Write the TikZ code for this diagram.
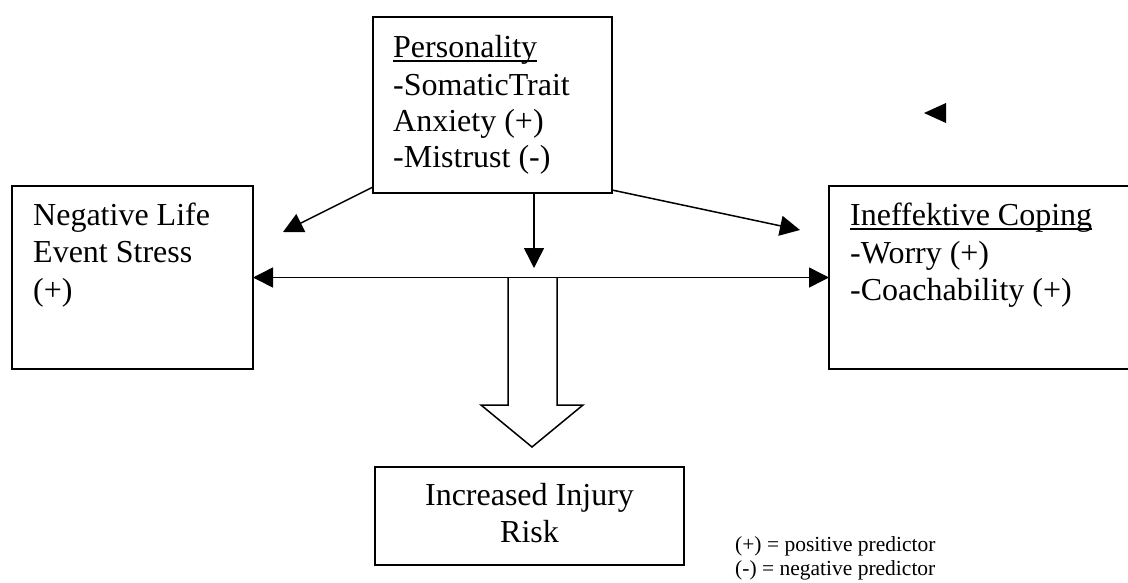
\documentclass[tikz,border=0pt]{standalone}
\usepackage{fontspec}
\setmainfont{Liberation Serif}
\usetikzlibrary{arrows.meta}
\tikzset{
  boxline/.style={draw=black, line width=1.8pt},
  emptybox/.style={boxline, inner sep=0pt, outer sep=0pt},
  bigtxt/.style={inner sep=0pt, anchor=base west, font=\fontsize{32}{36}\selectfont},
  smalltxt/.style={inner sep=0pt, anchor=base west, font=\fontsize{21.5}{25}\selectfont},
  conn/.style={line width=1.5pt, -{Triangle[length=20pt,width=20pt]}},
  dconn/.style={line width=1.5pt, {Triangle[length=20pt,width=20pt]}-{Triangle[length=20pt,width=20pt]}},
  ul/.style={line width=1.6pt}
}
\begin{document}
\begin{tikzpicture}[x=1pt,y=-1pt]
\useasboundingbox (0,0) rectangle (1128,582);
\clip (0,0) rectangle (1128,582);
\fill[white] (0,0) rectangle (1128,582);

% boxes
\draw[boxline] (373,17) rectangle (612,193);
\coordinate (persSW) at (373,187);
\coordinate (persSE) at (612,190);
\coordinate (persS) at (534,193);
\node[emptybox, minimum width=241pt, minimum height=183pt] (neg) at (132.5,277.5) {};
\node[emptybox, minimum width=310pt, minimum height=183pt, anchor=north west] (cop) at (829,186) {};
\node[emptybox, minimum width=309pt, minimum height=98pt] (inj) at (529.5,516) {};

% personality text
\node[bigtxt] (p1) at (393,57) {Personality};
\draw[ul] ([yshift=-4pt]p1.base west) -- ([yshift=-4pt]p1.base east);
\node[bigtxt] (p2) at (393,95) {-SomaticTrait};
\node[bigtxt] (p3) at (393,131) {Anxiety (+)};
\node[bigtxt] (p4) at (393,167) {-Mistrust (-)};

% negative life text
\node[bigtxt] (n1) at (33,225) {Negative Life};
\node[bigtxt] (n2) at (33,262) {Event Stress};
\node[bigtxt] (n3) at (33,300) {(+)};

% coping text
\node[bigtxt] (c1) at (850,225) {Ineffektive Coping};
\draw[ul] ([yshift=-4pt]c1.base west) -- ([yshift=-4pt]c1.base east);
\node[bigtxt] (c2) at (850,263) {-Worry (+)};
\node[bigtxt] (c3) at (850,300) {-Coachability (+)};

% injury text
\node[bigtxt, anchor=base] (i1) at (529.5,505) {Increased Injury};
\node[bigtxt, anchor=base] (i2) at (529.5,542) {Risk};

% legend
\node[smalltxt] (l1) at (735,551) {(+) = positive predictor};
\node[smalltxt] (l2) at (735,575) {(-) = negative predictor};

% connectors
\coordinate (tipL) at (283,232);
\coordinate (tipR) at (800,230);
\coordinate (tipD) at (534,268);
\draw[conn] (persSW) -- (tipL);
\draw[conn] (persSE) -- (tipR);
\draw[conn] (persS) -- (tipD);
\draw[dconn] (neg.east) -- (cop.west);

% hollow block arrow
\draw[line width=1.5pt, line join=miter] (508,278) -- (508,405) -- (481,405) -- (532,447) -- (583,405) -- (557,405) -- (557,278);

% lone arrowhead
\fill[black] (924,113) -- (946,103) -- (946,123) -- cycle;
\end{tikzpicture}
\end{document}
